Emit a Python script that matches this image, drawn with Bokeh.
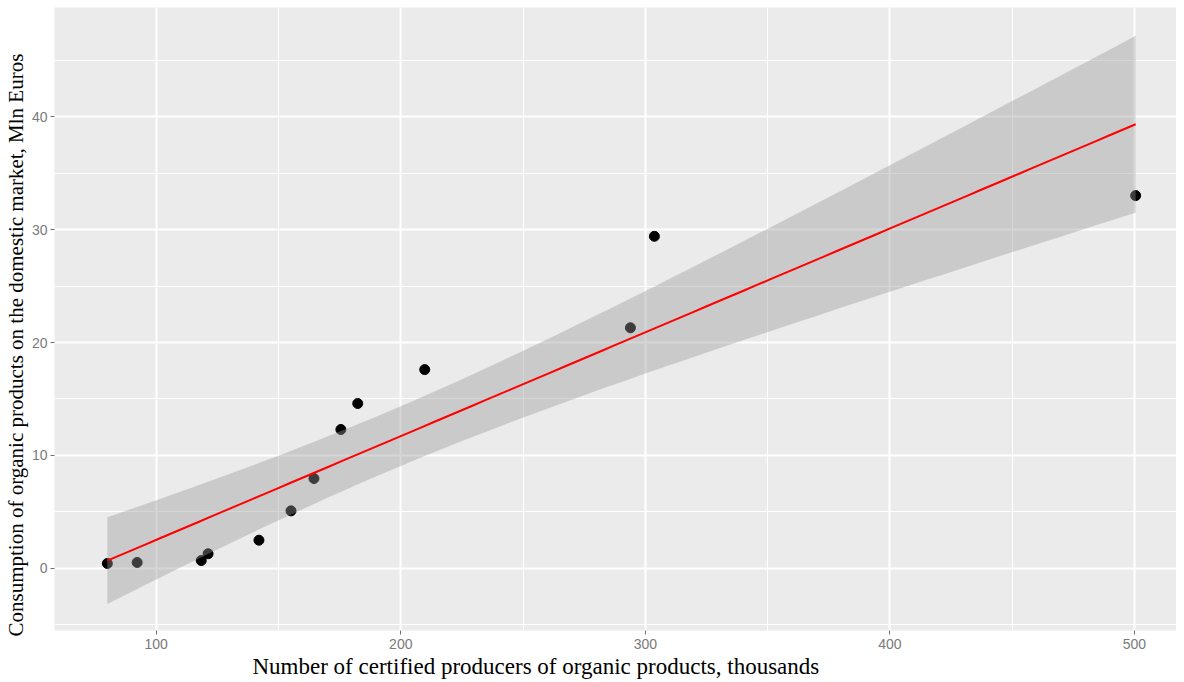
import numpy as np
from bokeh.plotting import figure
from bokeh.models import Range1d, SingleIntervalTicker, Title, ColumnDataSource
from bokeh.embed import file_html
from bokeh.resources import INLINE

# Data
producers = [80.0, 92.2, 118.4, 121.2, 142.0, 155.1, 164.5, 175.5, 182.4, 209.8, 293.9, 303.7, 500.5]
consumption = [0.44, 0.53, 0.70, 1.30, 2.50, 5.10, 7.96, 12.3, 14.6, 17.6, 21.3, 29.4, 33.0]

x_label = "Number of certified producers of organic products, thousands"
y_label = "Consumption of organic products on the domestic market, Mln Euros"

# Linear model with 95% confidence band (as geom_smooth(method="lm"))
x = np.array(producers)
y = np.array(consumption)
n = len(x)
slope, intercept = np.polyfit(x, y, 1)
resid = y - (intercept + slope * x)
s = np.sqrt(np.sum(resid ** 2) / (n - 2))
t975 = 2.200985  # Student t quantile, df = 11
sxx = np.sum((x - x.mean()) ** 2)
xs = np.linspace(x.min(), x.max(), 80)
fit = intercept + slope * xs
se = s * np.sqrt(1.0 / n + (xs - x.mean()) ** 2 / sxx)
band = ColumnDataSource(dict(x=xs, fit=fit, lo=fit - t975 * se, hi=fit + t975 * se))
pts = ColumnDataSource(dict(x=producers, y=consumption))

p = figure(width=1176, height=680, output_backend="svg", toolbar_location=None,
           x_range=Range1d(58.4, 517.2), y_range=Range1d(-5.49, 49.65),
           min_border_left=54, min_border_right=0, min_border_top=7, min_border_bottom=50)
p.background_fill_color = "#EBEBEB"
p.border_fill_color = "white"
p.outline_line_color = None

p.xaxis.ticker = SingleIntervalTicker(interval=100, num_minor_ticks=2)
p.yaxis.ticker = SingleIntervalTicker(interval=10, num_minor_ticks=2)
for ax in (p.xaxis, p.yaxis):
    ax.axis_line_color = None
    ax.major_tick_line_color = "#6F6F6F"
    ax.major_tick_out = 4
    ax.major_tick_in = 0
    ax.minor_tick_line_color = None
    ax.major_label_text_color = "#7A7A7A"
    ax.major_label_text_font = "Liberation Sans"
    ax.major_label_text_font_size = "14px"
p.xaxis.major_label_standoff = 4
p.yaxis.major_label_standoff = 3

for g in (p.xgrid, p.ygrid):
    g.grid_line_color = "white"
    g.grid_line_width = 2
    g.minor_grid_line_color = "white"
    g.minor_grid_line_width = 1

p.scatter("x", "y", source=pts, size=10, color="black")
p.varea(x="x", y1="lo", y2="hi", source=band, fill_color="#999999", fill_alpha=0.4)
p.line("x", "fit", source=band, line_color="red", line_width=2)

p.add_layout(Title(text=x_label, align="left", offset=198, standoff=0,
                   text_font="Liberation Serif", text_font_size="23px",
                   text_font_style="normal", text_color="black"), "below")
p.add_layout(Title(text=y_label, align="left", offset=-6, standoff=2,
                   text_font="Liberation Serif", text_font_size="21px",
                   text_font_style="normal", text_color="black"), "left")

open("out.html", "w").write(file_html(p, INLINE))
